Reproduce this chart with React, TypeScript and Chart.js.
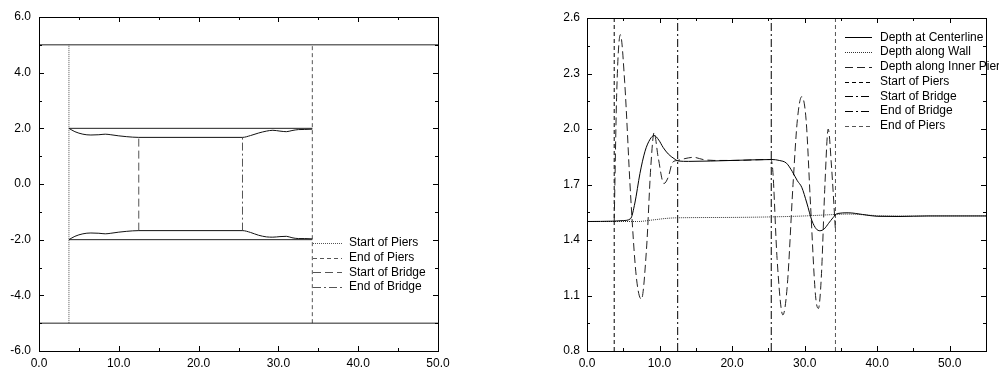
import React, { useEffect, useRef } from "react";
import { Chart, registerables } from "chart.js";

Chart.register(...registerables);

// ---------- Left chart: plan view of channel, piers and bridge ----------
const planXTicks = [0, 10, 20, 30, 40, 50];
const planYTicks = [-6, -4, -2, 0, 2, 4, 6];
const wallX = [0, 50];
const upperWallY = [5, 5];
const lowerWallY = [-5, -5];
const pierOuterX = [3.75, 34.25];
const upperPierOuterY = [2, 2];
const lowerPierOuterY = [-2, -2];
const pierInnerX = [3.75, 4.5, 5.5, 6.5, 7.5, 8.3, 9.0, 10.0, 11.0, 12.5, 25.5, 26.5, 27.5, 28.5, 29.3, 30.2, 31.0, 31.7, 32.5, 33.3, 34.25];
const upperPierInnerY = [2.0, 1.88, 1.79, 1.76, 1.77, 1.79, 1.77, 1.73, 1.7, 1.675, 1.675, 1.74, 1.83, 1.9, 1.93, 1.9, 1.88, 1.92, 1.955, 1.96, 1.97];
const lowerPierInnerY = [-2.0, -1.88, -1.79, -1.76, -1.77, -1.79, -1.77, -1.73, -1.7, -1.675, -1.675, -1.74, -1.84, -1.9, -1.91, -1.89, -1.88, -1.93, -1.96, -1.96, -1.97];
const startOfPiersX = 3.75;
const endOfPiersX = 34.25;
const startOfBridgeX = 12.5;
const endOfBridgeX = 25.5;
const pierLineY = [-5, 5];
const bridgeLineY = [-1.675, 1.675];

// ---------- Right chart: depth profiles ----------
const depthYTicks = [0.8, 1.1, 1.4, 1.7, 2.0, 2.3, 2.6];
const centerlineX = [0, 3.75, 5, 6, 6.6, 7.3, 8, 8.7, 9.25, 9.9, 10.5, 11.2, 12, 12.6, 14, 20, 25.5, 26.5, 27.5, 28.3, 29, 29.6, 30.3, 31, 31.6, 32.1, 32.7, 33.3, 33.9, 34.5, 36, 38, 40, 43, 47, 55];
const centerlineDepth = [1.5, 1.502, 1.505, 1.515, 1.6, 1.76, 1.88, 1.945, 1.965, 1.94, 1.9, 1.865, 1.84, 1.827, 1.825, 1.83, 1.835, 1.83, 1.815, 1.77, 1.72, 1.685, 1.6, 1.505, 1.46, 1.45, 1.46, 1.49, 1.52, 1.543, 1.547, 1.538, 1.528, 1.527, 1.53, 1.53];
const wallDepthX = [0, 7, 9, 11, 12.5, 20, 25.5, 30, 34.25, 36, 40, 45, 55];
const wallDepth = [1.5, 1.5, 1.508, 1.517, 1.52, 1.522, 1.525, 1.53, 1.538, 1.54, 1.532, 1.53, 1.53];
const innerPierX = [3.75, 4.1, 4.6, 5.2, 6.0, 6.8, 7.5, 8.2, 8.8, 9.25, 9.8, 10.6, 11.2, 11.8, 12.5, 13.5, 14.7, 16, 17.5, 20, 25.3, 25.6, 26.2, 27.0, 27.6, 28.4, 29.0, 29.6, 30.2, 30.8, 31.5, 31.9, 32.3, 32.8, 33.25, 33.7, 34.25];
const innerPierDepth = [1.5, 2.2, 2.51, 2.25, 1.65, 1.2, 1.08, 1.35, 1.8, 1.98, 1.85, 1.705, 1.74, 1.82, 1.83, 1.84, 1.847, 1.835, 1.83, 1.83, 1.835, 1.78, 1.3, 0.995, 1.15, 1.7, 2.05, 2.175, 2.05, 1.6, 1.1, 1.03, 1.2, 1.7, 2.0, 1.8, 1.45];
const depthLineY = [0.8, 2.6];

const pts = (xs: number[], ys: number[]) => xs.map((x, i) => ({ x, y: ys[i] }));
const vline = (x: number, ys: number[]) => ys.map((y) => ({ x, y }));

Chart.defaults.font.family = "'Liberation Sans', Arial, sans-serif";
Chart.defaults.font.size = 12;
Chart.defaults.color = "#000";

const framePlugin = {
  id: "frameTicks",
  afterDatasetsDraw(chart: any) {
    const { ctx, chartArea: a, scales } = chart;
    const xs = scales.x;
    const ys = scales.y;
    const r = (v: number) => Math.round(v) + 0.5;
    ctx.save();
    ctx.setLineDash([]);
    ctx.strokeStyle = "#000";
    ctx.lineWidth = 1;
    ctx.strokeRect(r(a.left), r(a.top), Math.round(a.right) - Math.round(a.left), Math.round(a.bottom) - Math.round(a.top));
    const major = 5;
    const minor = 3;
    const xv = xs.ticks.map((t: any) => t.value);
    const yv = ys.ticks.map((t: any) => t.value);
    const mids = (v: number[], max: number) => {
      const out: number[] = [];
      for (let i = 0; i < v.length; i++) {
        const step = i + 1 < v.length ? v[i + 1] - v[i] : v[i] - v[i - 1];
        const m = v[i] + step / 2;
        if (m < max - 1e-9) out.push(m);
      }
      return out;
    };
    ctx.beginPath();
    const xTick = (val: number, len: number) => {
      const p = r(xs.getPixelForValue(val));
      ctx.moveTo(p, a.bottom);
      ctx.lineTo(p, a.bottom - len);
      ctx.moveTo(p, a.top);
      ctx.lineTo(p, a.top + len);
    };
    const yTick = (val: number, len: number) => {
      const p = r(ys.getPixelForValue(val));
      ctx.moveTo(a.left, p);
      ctx.lineTo(a.left + len, p);
      ctx.moveTo(a.right, p);
      ctx.lineTo(a.right - len, p);
    };
    xv.forEach((v: number) => xTick(v, major));
    mids(xv, xs.max).forEach((v) => xTick(v, minor));
    yv.forEach((v: number) => yTick(v, major));
    mids(yv, ys.max).forEach((v) => yTick(v, minor));
    ctx.stroke();
    ctx.restore();
  },
};

const legendPlugin = {
  id: "inlineLegend",
  afterDraw(chart: any, _args: any, opts: any) {
    const { ctx, chartArea: a } = chart;
    let y = a.top + opts.dy;
    const x0 = a.left + opts.dx;
    ctx.save();
    ctx.font = "12px 'Liberation Sans', Arial, sans-serif";
    ctx.textBaseline = "middle";
    ctx.textAlign = "left";
    chart.data.datasets.forEach((ds: any) => {
      if (!ds.label) return;
      ctx.beginPath();
      ctx.strokeStyle = ds.borderColor;
      ctx.lineWidth = ds.borderWidth || 1;
      ctx.setLineDash(ds.borderDash || []);
      ctx.moveTo(x0, Math.round(y) + 0.5);
      ctx.lineTo(x0 + opts.lineLen, Math.round(y) + 0.5);
      ctx.stroke();
      ctx.setLineDash([]);
      ctx.fillStyle = "#000";
      ctx.fillText(ds.label, x0 + opts.lineLen + opts.gap, y);
      y += opts.rowH;
    });
    ctx.restore();
  },
};

const line = (data: any[], color: string, dash: number[] = [], label?: string, smooth = false) => ({
  label,
  data,
  borderColor: color,
  borderWidth: 1,
  borderDash: dash,
  pointRadius: 0,
  fill: false,
  cubicInterpolationMode: smooth ? "monotone" : "default",
  tension: 0,
});

function useChart(ref: any, config: any) {
  useEffect(() => {
    const c = new Chart(ref.current, config);
    return () => c.destroy();
  }, []);
}

const baseScales = (xMax: number, yMin: number, yMax: number, yStep: number, yWidth: number, yPad: number) => ({
  x: {
    type: "linear",
    min: 0,
    max: xMax,
    grid: { display: false, drawTicks: false },
    border: { display: false },
    ticks: { stepSize: 10, padding: 5, maxRotation: 0, callback: (v: number) => v.toFixed(1) },
    afterBuildTicks: (s: any) => {
      s.ticks = s.ticks.filter((t: any) => planXTicks.includes(Math.round(t.value * 1000) / 1000));
    },
    afterFit: (s: any) => {
      s.height = 17;
    },
  },
  y: {
    type: "linear",
    min: yMin,
    max: yMax,
    grid: { display: false, drawTicks: false },
    border: { display: false },
    ticks: { stepSize: yStep, padding: yPad, callback: (v: number) => v.toFixed(1) },
    afterFit: (s: any) => {
      s.width = yWidth;
    },
  },
});

function PlanChart() {
  const ref = useRef<HTMLCanvasElement>(null);
  useChart(ref, {
    type: "line",
    data: {
      datasets: [
        line(pts(wallX, upperWallY), "#222"),
        line(pts(wallX, lowerWallY), "#222"),
        line(pts(pierOuterX, upperPierOuterY), "#222"),
        line(pts(pierOuterX, lowerPierOuterY), "#222"),
        line(pts(pierInnerX, upperPierInnerY), "#111", [], undefined, true),
        line(pts(pierInnerX, lowerPierInnerY), "#111", [], undefined, true),
        line(vline(startOfPiersX, pierLineY), "#555", [1, 1], "Start of Piers"),
        line(vline(endOfPiersX, pierLineY), "#555", [4, 3], "End of Piers"),
        line(vline(startOfBridgeX, bridgeLineY), "#555", [8, 4], "Start of Bridge"),
        line(vline(endOfBridgeX, bridgeLineY), "#555", [8, 3, 2, 3], "End of Bridge"),
      ],
    },
    options: {
      responsive: false,
      animation: false,
      devicePixelRatio: 1,
      layout: { padding: { top: 17, right: 32, left: 0, bottom: 0 } },
      plugins: {
        legend: { display: false },
        tooltip: { enabled: false },
        inlineLegend: { dx: 274, dy: 226, lineLen: 29, gap: 7, rowH: 14.7 },
      },
      scales: baseScales(50, -6, 6, 2, 39, 8),
    },
    plugins: [framePlugin, legendPlugin],
  });
  return <canvas ref={ref} width={470} height={368} style={{ position: "absolute", left: 0, top: 0 }} />;
}

function DepthChart() {
  const ref = useRef<HTMLCanvasElement>(null);
  useChart(ref, {
    type: "line",
    data: {
      datasets: [
        line(pts(centerlineX, centerlineDepth), "#000", [], "Depth at Centerline", true),
        line(pts(wallDepthX, wallDepth), "#333", [1, 1], "Depth along Wall", true),
        line(pts(innerPierX, innerPierDepth), "#222", [8, 4], "Depth along Inner Pier", true),
        line(vline(startOfPiersX, depthLineY), "#000", [4, 3], "Start of Piers"),
        line(vline(startOfBridgeX, depthLineY), "#000", [8, 3, 2, 3], "Start of Bridge"),
        line(vline(endOfBridgeX - 0.1, depthLineY), "#000", [8, 3, 2, 3], "End of Bridge"),
        line(vline(endOfPiersX, depthLineY), "#555", [4, 3], "End of Piers"),
      ],
    },
    options: {
      responsive: false,
      animation: false,
      devicePixelRatio: 1,
      layout: { padding: { top: 18, right: 13, left: 0, bottom: 0 } },
      plugins: {
        legend: { display: false },
        tooltip: { enabled: false },
        inlineLegend: { dx: 258, dy: 19.4, lineLen: 27, gap: 8, rowH: 14.7 },
      },
      scales: baseScales(55, 0.8, 2.6, 0.3, 47, 7),
    },
    plugins: [framePlugin, legendPlugin],
  });
  return <canvas ref={ref} width={459} height={368} style={{ position: "absolute", left: 540, top: 0 }} />;
}

export default function App() {
  return (
    <div style={{ position: "fixed", left: 0, top: 0, width: 999, height: 368, background: "#fff", overflow: "hidden" }}>
      <PlanChart />
      <DepthChart />
    </div>
  );
}
